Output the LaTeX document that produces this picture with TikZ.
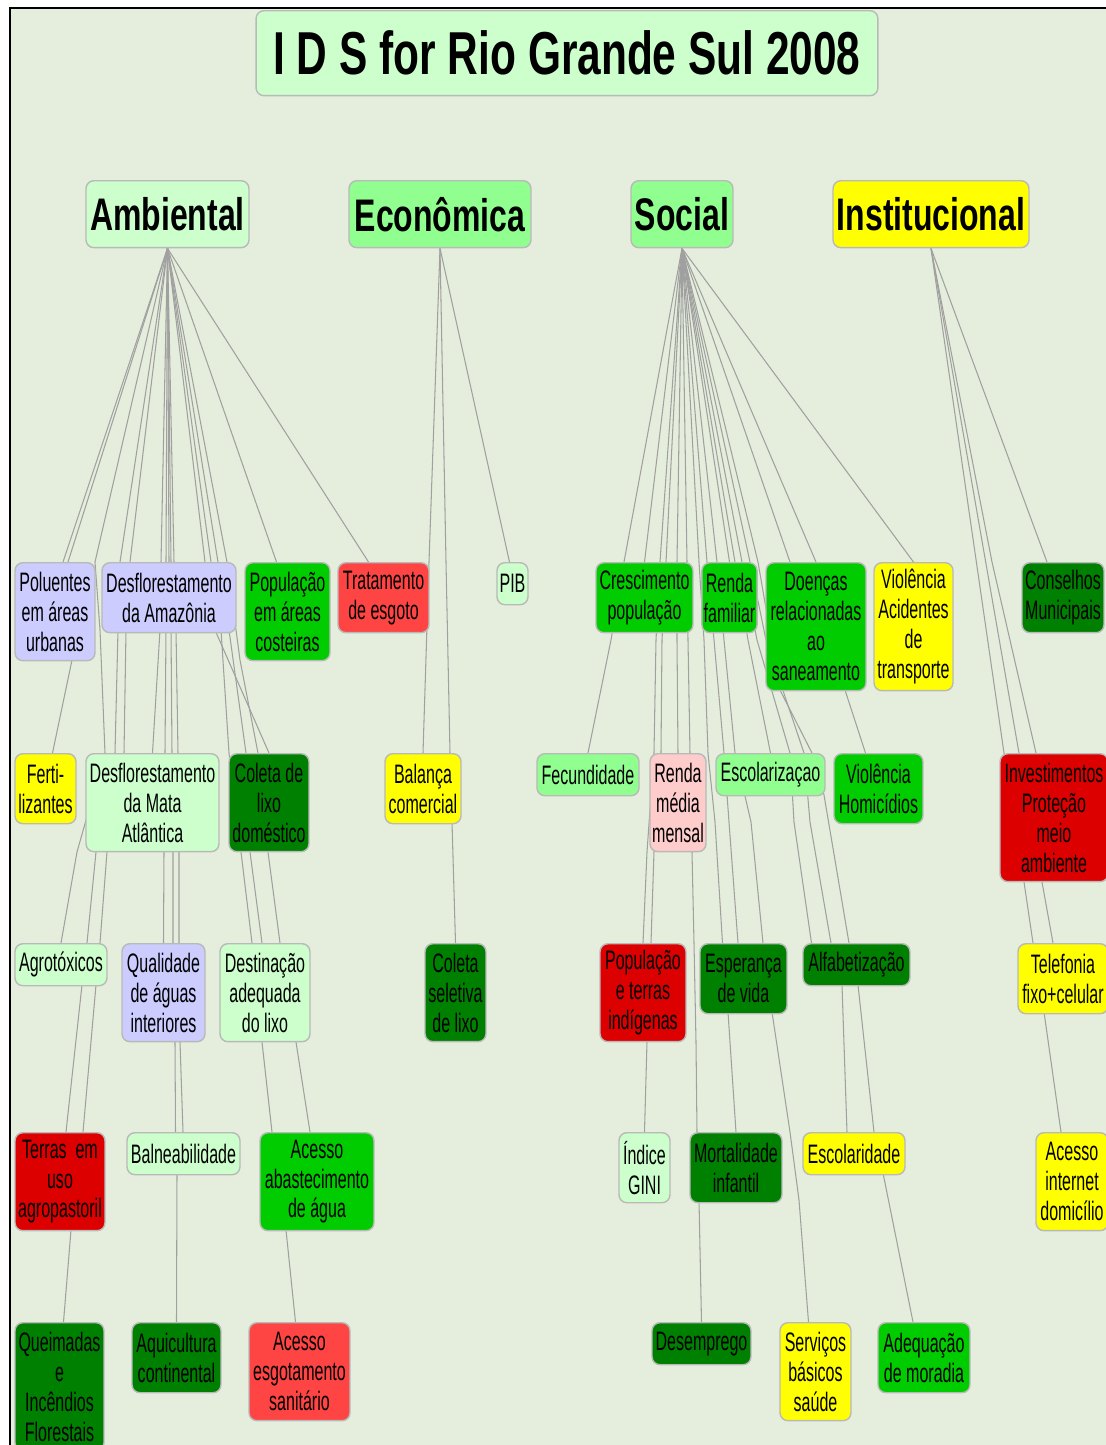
\documentclass[tikz,border=0pt]{standalone}
\usepackage{fontspec}
\newfontfamily\boxfont[FakeStretch=0.6]{Liberation Sans}
\newfontfamily\headfont[FakeStretch=0.7]{Liberation Sans}
\usetikzlibrary{calc,backgrounds}

\definecolor{bgcol}{RGB}{229,238,220}
\definecolor{palegreen}{RGB}{204,255,204}
\definecolor{midgreen}{RGB}{144,255,144}
\definecolor{leafgreen}{RGB}{0,204,0}
\definecolor{darkleaf}{RGB}{0,128,0}
\definecolor{brightyellow}{RGB}{255,255,0}
\definecolor{darkred}{RGB}{221,0,0}
\definecolor{lightred}{RGB}{255,68,68}
\definecolor{lavender}{RGB}{204,204,255}
\definecolor{pinkish}{RGB}{255,204,204}
\definecolor{linkgray}{RGB}{160,160,160}

\begin{document}
\begin{tikzpicture}[x=0.02cm,y=-0.02cm,
    box/.style={draw=gray!55,line width=0.8pt,rounded corners=4.5pt,align=center,anchor=north,inner sep=1pt,
        font=\boxfont\fontsize{15.2}{17}\selectfont},
    h1/.style={minimum height=0.84cm},
    h2/.style={minimum height=1.4cm},
    h3/.style={minimum height=1.96cm},
    h4/.style={minimum height=2.56cm},
    head/.style={box,font=\headfont\bfseries\fontsize{26}{30}\selectfont,minimum height=1.34cm},
    link/.style={linkgray,line width=0.6pt}
]
\useasboundingbox (0,0) rectangle (1106,1445);

% === Title ===
\node[box,fill=palegreen,minimum width=12.44cm,minimum height=1.7cm,
      font=\headfont\bfseries\fontsize{34.5}{40}\selectfont] (title) at (567,10) {I D S for Rio Grande Sul 2008};

% === Dimensions ===
\node[head,fill=palegreen,minimum width=3.26cm] (amb) at (167.5,180) {Ambiental};
\node[head,fill=midgreen,minimum width=3.64cm] (eco) at (440,180) {Econômica};
\node[head,fill=midgreen,minimum width=2.04cm] (soc) at (682,180) {Social};
\node[head,fill=brightyellow,minimum width=3.92cm] (inst) at (931,180) {Institucional};

% === Row 1 ===
\node[box,h3,fill=lavender,minimum width=1.6cm] (pol) at (55,562) {Poluentes\\em áreas\\urbanas};
\node[box,h2,fill=lavender,minimum width=2.68cm] (amz) at (169,562) {Desflorestamento\\da Amazônia};
\node[box,h3,fill=leafgreen,minimum width=1.7cm] (popc) at (287.5,562) {População\\em áreas\\costeiras};
\node[box,h2,fill=lightred,minimum width=1.82cm] (trat) at (383.5,562) {Tratamento\\de esgoto};
\node[box,h1,fill=palegreen,minimum width=0.62cm] (pib) at (512.5,562) {PIB};
\node[box,h2,fill=leafgreen,minimum width=1.94cm] (cresc) at (644.5,562) {Crescimento\\população};
\node[box,h2,fill=leafgreen,minimum width=1.1cm] (rfam) at (729.5,562) {Renda\\familiar};
\node[box,h4,fill=leafgreen,minimum width=2.0cm] (doen) at (816,562) {Doenças\\relacionadas\\ao\\saneamento};
\node[box,h4,fill=brightyellow,minimum width=1.58cm] (vac) at (913.5,562) {Violência\\Acidentes\\de\\transporte};
\node[box,h2,fill=darkleaf,minimum width=1.64cm] (cons) at (1063,562) {Conselhos\\Municipais};

% === Row 2 ===
\node[box,h2,fill=brightyellow,minimum width=1.22cm] (fert) at (45.5,753) {Ferti-\\lizantes};
\node[box,h3,fill=palegreen,minimum width=2.66cm] (mata) at (152.5,753) {Desflorestamento\\da Mata\\Atlântica};
\node[box,h3,fill=darkleaf,minimum width=1.6cm] (clix) at (269,753) {Coleta de\\lixo\\doméstico};
\node[box,h2,fill=brightyellow,minimum width=1.52cm] (bal) at (423,753) {Balança\\comercial};
\node[box,h1,fill=midgreen,minimum width=2.04cm] (fec) at (588,753) {Fecundidade};
\node[box,h3,fill=pinkish,minimum width=1.12cm] (rmm) at (678,753) {Renda\\média\\mensal};
\node[box,h1,fill=midgreen,minimum width=2.18cm] (escz) at (770.5,753) {Escolarizaçao};
\node[box,h2,fill=leafgreen,minimum width=1.78cm] (vhom) at (878.5,753) {Violência\\Homicídios};
\node[box,h4,fill=darkred,minimum width=2.16cm] (inv) at (1054,753) {Investimentos\\Proteção\\meio\\ambiente};

% === Row 3 ===
\node[box,h1,fill=palegreen,minimum width=1.84cm] (agro) at (61,943) {Agrotóxicos};
\node[box,h3,fill=lavender,minimum width=1.66cm] (qual) at (163.5,943) {Qualidade\\de águas\\interiores};
\node[box,h3,fill=palegreen,minimum width=1.8cm] (dest) at (265,943) {Destinação\\adequada\\do lixo};
\node[box,h3,fill=darkleaf,minimum width=1.22cm] (csel) at (455.5,943) {Coleta\\seletiva\\de lixo};
\node[box,h3,fill=darkred,minimum width=1.72cm] (pind) at (643,943) {População\\e terras\\indígenas};
\node[box,h2,fill=darkleaf,minimum width=1.74cm] (esp) at (743.5,943) {Esperança\\de vida};
\node[box,h1,fill=darkleaf,minimum width=2.14cm] (alf) at (856.5,943) {Alfabetização};
\node[box,h2,fill=brightyellow,minimum width=1.8cm] (tel) at (1063,943) {Telefonia\\fixo+celular};

% === Row 4 ===
\node[box,h3,fill=darkred,minimum width=1.8cm] (terr) at (60,1132) {Terras\ \ em\\uso\\agropastoril};
\node[box,h1,fill=palegreen,minimum width=2.26cm] (baln) at (183.5,1132) {Balneabilidade};
\node[box,h3,fill=leafgreen,minimum width=2.28cm] (abast) at (317,1132) {Acesso\\abastecimento\\de água};
\node[box,h2,fill=palegreen,minimum width=1.02cm] (gini) at (644.5,1132) {Índice\\GINI};
\node[box,h2,fill=darkleaf,minimum width=1.84cm] (mort) at (736,1132) {Mortalidade\\infantil};
\node[box,h1,fill=brightyellow,minimum width=2.04cm] (escd) at (854,1132) {Escolaridade};
\node[box,h3,fill=brightyellow,minimum width=1.44cm] (inet) at (1072,1132) {Acesso\\internet\\domicílio};

% === Row 5 ===
\node[box,h4,fill=darkleaf,minimum width=1.78cm] (quei) at (59.5,1322) {Queimadas\\e\\Incêndios\\Florestais};
\node[box,h2,fill=darkleaf,minimum width=1.78cm] (aqui) at (176.5,1322) {Aquicultura\\continental};
\node[box,h3,fill=lightred,minimum width=2.02cm] (esgot) at (299.5,1322) {Acesso\\esgotamento\\sanitário};
\node[box,h1,fill=darkleaf,minimum width=1.98cm] (desem) at (701.5,1322) {Desemprego};
\node[box,h3,fill=brightyellow,minimum width=1.42cm] (serv) at (815.5,1322) {Serviços\\básicos\\saúde};
\node[box,h2,fill=leafgreen,minimum width=1.84cm] (adeq) at (924,1322) {Adequação\\de moradia};

\begin{pgfonlayer}{background}
% canvas and frame
\fill[white] (0,0) rectangle (1106,1445);
\fill[bgcol] (10,8) rectangle (1106,1445);
\draw[line width=1.2pt] (10,1445) -- (10,8) -- (1106,8);

% === Ambiental links ===
\draw[link] (amb.south) -- ($(pol.north)+(8,0)$);
\draw[link] (amb.south) -- (amz.north);
\draw[link] (amb.south) -- ($(popc.north)+(-11,0)$);
\draw[link] (amb.south) -- ($(trat.north)+(-15,0)$);
\draw[link] (amb.south) -- (68,562) -- (72,660) -- ($(fert.north)+(7,0)$);
\draw[link] (amb.south) -- (95,562) -- (100,630) -- (105,753) -- (77,852) -- (agro.north);
\draw[link] (amb.south) -- (120,562) -- (118,630) -- (115,753) -- (96,852) -- (87,943) -- (82,985) -- ($(terr.north)+(6,0)$);
\draw[link] (amb.south) -- (130,562) -- (126,630) -- (124,753) -- (107,852) -- (100,943) -- (96,985) -- (83,1132) -- (71,1230) -- ($(quei.north)+(4,0)$);
\draw[link] (amb.south) -- (161,562) -- (160,630) -- (mata.north);
\draw[link] (amb.south) -- (166,562) -- (166,630) -- (165,753) -- (164,852) -- (qual.north);
\draw[link] (amb.south) -- (171,562) -- (171,630) -- (172,753) -- (173,852) -- (173,943) -- (175,1042) -- ($(baln.north)+(-8,0)$);
\draw[link] (amb.south) -- (174,562) -- (176,630) -- (178,753) -- (179,852) -- (179,943) -- (180,1042) -- (183,1132) -- (177,1173) -- (aqui.north);
\draw[link] (amb.south) -- (205,562) -- (215,630) -- (clix.north);
\draw[link] (amb.south) -- (211,562) -- (221,630) -- (229,753) -- (241,852) -- ($(dest.north)+(-13,0)$);
\draw[link] (amb.south) -- (218,562) -- (229,630) -- (246,753) -- (250,852) -- (262,943) -- (262,1042) -- (272,1132) -- (286,1230) -- ($(esgot.north)+(-4,0)$);
\draw[link] (amb.south) -- (227,562) -- (240,660) -- (258,753) -- (268,852) -- (280,943) -- (296,1042) -- ($(abast.north)+(-7,0)$);

% === Economica links ===
\draw[link] (eco.south) -- ($(pib.north)+(-3,0)$);
\draw[link] (eco.south) -- (429,562) -- (bal.north);
\draw[link] (eco.south) -- (446,562) -- (450,753) -- (452,822) -- (csel.north);

% === Social links ===
\draw[link] (soc.south) -- (624,562) -- (611,640) -- (fec.north);
\draw[link] (soc.south) -- (cresc.north);
\draw[link] (soc.south) -- (660,562) -- (656,640) -- (654,753) -- (647,852) -- (pind.north);
\draw[link] (soc.south) -- (666,562) -- (662,640) -- (661,753) -- (654,852) -- (651,943) -- (647,1042) -- (gini.north);
\draw[link] (soc.south) -- (677,562) -- (677,640) -- (rmm.north);
\draw[link] (soc.south) -- (687,562) -- (688,640) -- (690,753) -- (692,852) -- (694,943) -- (696,1042) -- (697,1132) -- (699,1200) -- (desem.north);
\draw[link] (soc.south) -- (699,562) -- (704,640) -- (708,753) -- (715,822) -- ($(esp.north)+(-21,0)$);
\draw[link] (soc.south) -- (707,562) -- (714,640) -- (724,753) -- (729,822) -- (738,943) -- (728,1012) -- (mort.north);
\draw[link] (soc.south) -- (717,562) -- (724,640) -- (735,753) -- (751,822) -- (763,943) -- (772,1012) -- (790,1132) -- (799,1200) -- ($(serv.north)+(-7,0)$);
\draw[link] (soc.south) -- (rfam.north);
\draw[link] (soc.south) -- (735,562) -- (748,640) -- (escz.north);
\draw[link] (soc.south) -- (742,562) -- (757,640) -- (790,753) -- (794,822) -- ($(alf.north)+(-45,0)$);
\draw[link] (soc.south) -- (750,562) -- (766,640) -- (804,753) -- (810,822) -- (831,943) -- (842,985) -- ($(escd.north)+(-7,0)$);
\draw[link] (soc.south) -- (758,562) -- (780,690) -- (812,753) -- (824,795) -- (849,943) -- (858,985) -- (874,1132) -- (883,1173) -- ($(adeq.north)+(-11,0)$);
\draw[link] (soc.south) -- (790,562) -- (845,690) -- ($(vhom.north)+(-13,0)$);
\draw[link] (soc.south) -- (doen.north);
\draw[link] (soc.south) -- (vac.north);

% === Institucional links ===
\draw[link] (inst.south) -- ($(cons.north)+(-16,0)$);
\draw[link] (inst.south) -- (992,562) -- ($(inv.north)+(-18,0)$);
\draw[link] (inst.south) -- (1004,753) -- (1024,882) -- ($(tel.north)+(-30,0)$);
\draw[link] (inst.south) -- (1019,753) -- (1042,882) -- (1053,943) -- (1044,1012) -- ($(inet.north)+(-11,0)$);
\end{pgfonlayer}

\end{tikzpicture}
\end{document}
